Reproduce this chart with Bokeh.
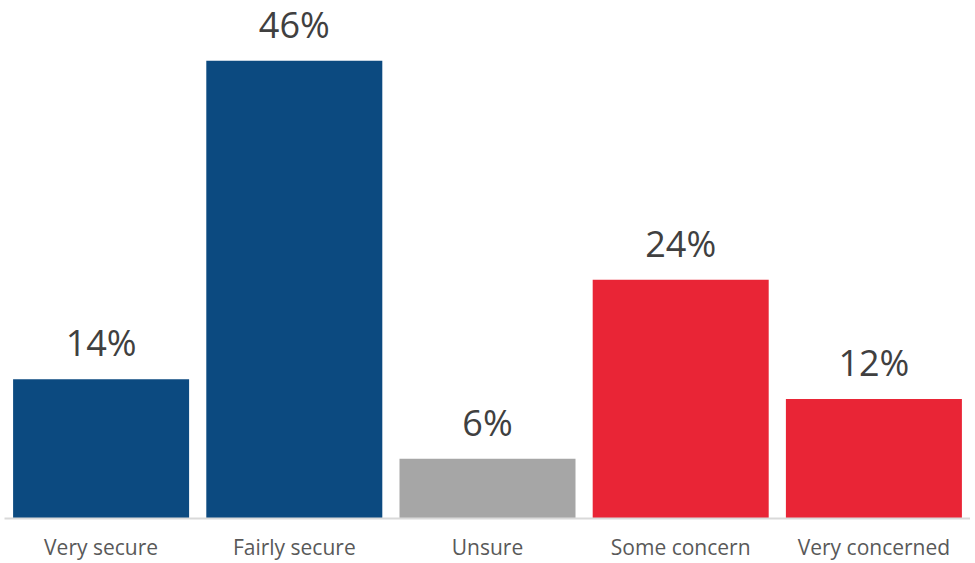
from bokeh.plotting import figure
from bokeh.models import ColumnDataSource, LabelSet
from bokeh.core.properties import value
from bokeh.embed import file_html
from bokeh.resources import INLINE

categories = ["Very secure", "Fairly secure", "Unsure", "Some concern", "Very concerned"]
values = [14, 46, 6, 24, 12]
labels = ["14%", "46%", "6%", "24%", "12%"]
colors = ["#0C4A80", "#0C4A80", "#A6A6A6", "#E92536", "#E92536"]

source = ColumnDataSource(data=dict(cat=categories, val=values, lab=labels, color=colors))

p = figure(x_range=categories, y_range=(0, 52.06), width=970, height=563,
           output_backend="svg", toolbar_location=None,
           min_border_left=4, min_border_right=0, min_border_top=0, min_border_bottom=40)
p.outline_line_color = None
p.background_fill_color = "white"
p.border_fill_color = "white"

p.vbar(x="cat", top="val", width=0.911, color="color", line_color=None, source=source)

lbl = LabelSet(x="cat", y="val", text="lab", source=source, text_align="center",
               text_baseline="alphabetic", y_offset=23,
               text_font=value("Open Sans"), text_font_size="36px", text_color="#404040")
p.add_layout(lbl)

p.yaxis.visible = False
p.grid.visible = False
p.xaxis.axis_line_color = "#D9D9D9"
p.xaxis.axis_line_width = 2
p.xaxis.major_tick_line_color = None
p.xaxis.minor_tick_line_color = None
p.xaxis.major_tick_in = 0
p.xaxis.major_tick_out = 0
p.xaxis.major_label_text_font = "Open Sans"
p.xaxis.major_label_text_font_size = "21px"
p.xaxis.major_label_text_color = "#595959"
p.xaxis.major_label_text_line_height = 1.0
p.xaxis.major_label_standoff = 14

open("out.html", "w").write(file_html(p, INLINE))
